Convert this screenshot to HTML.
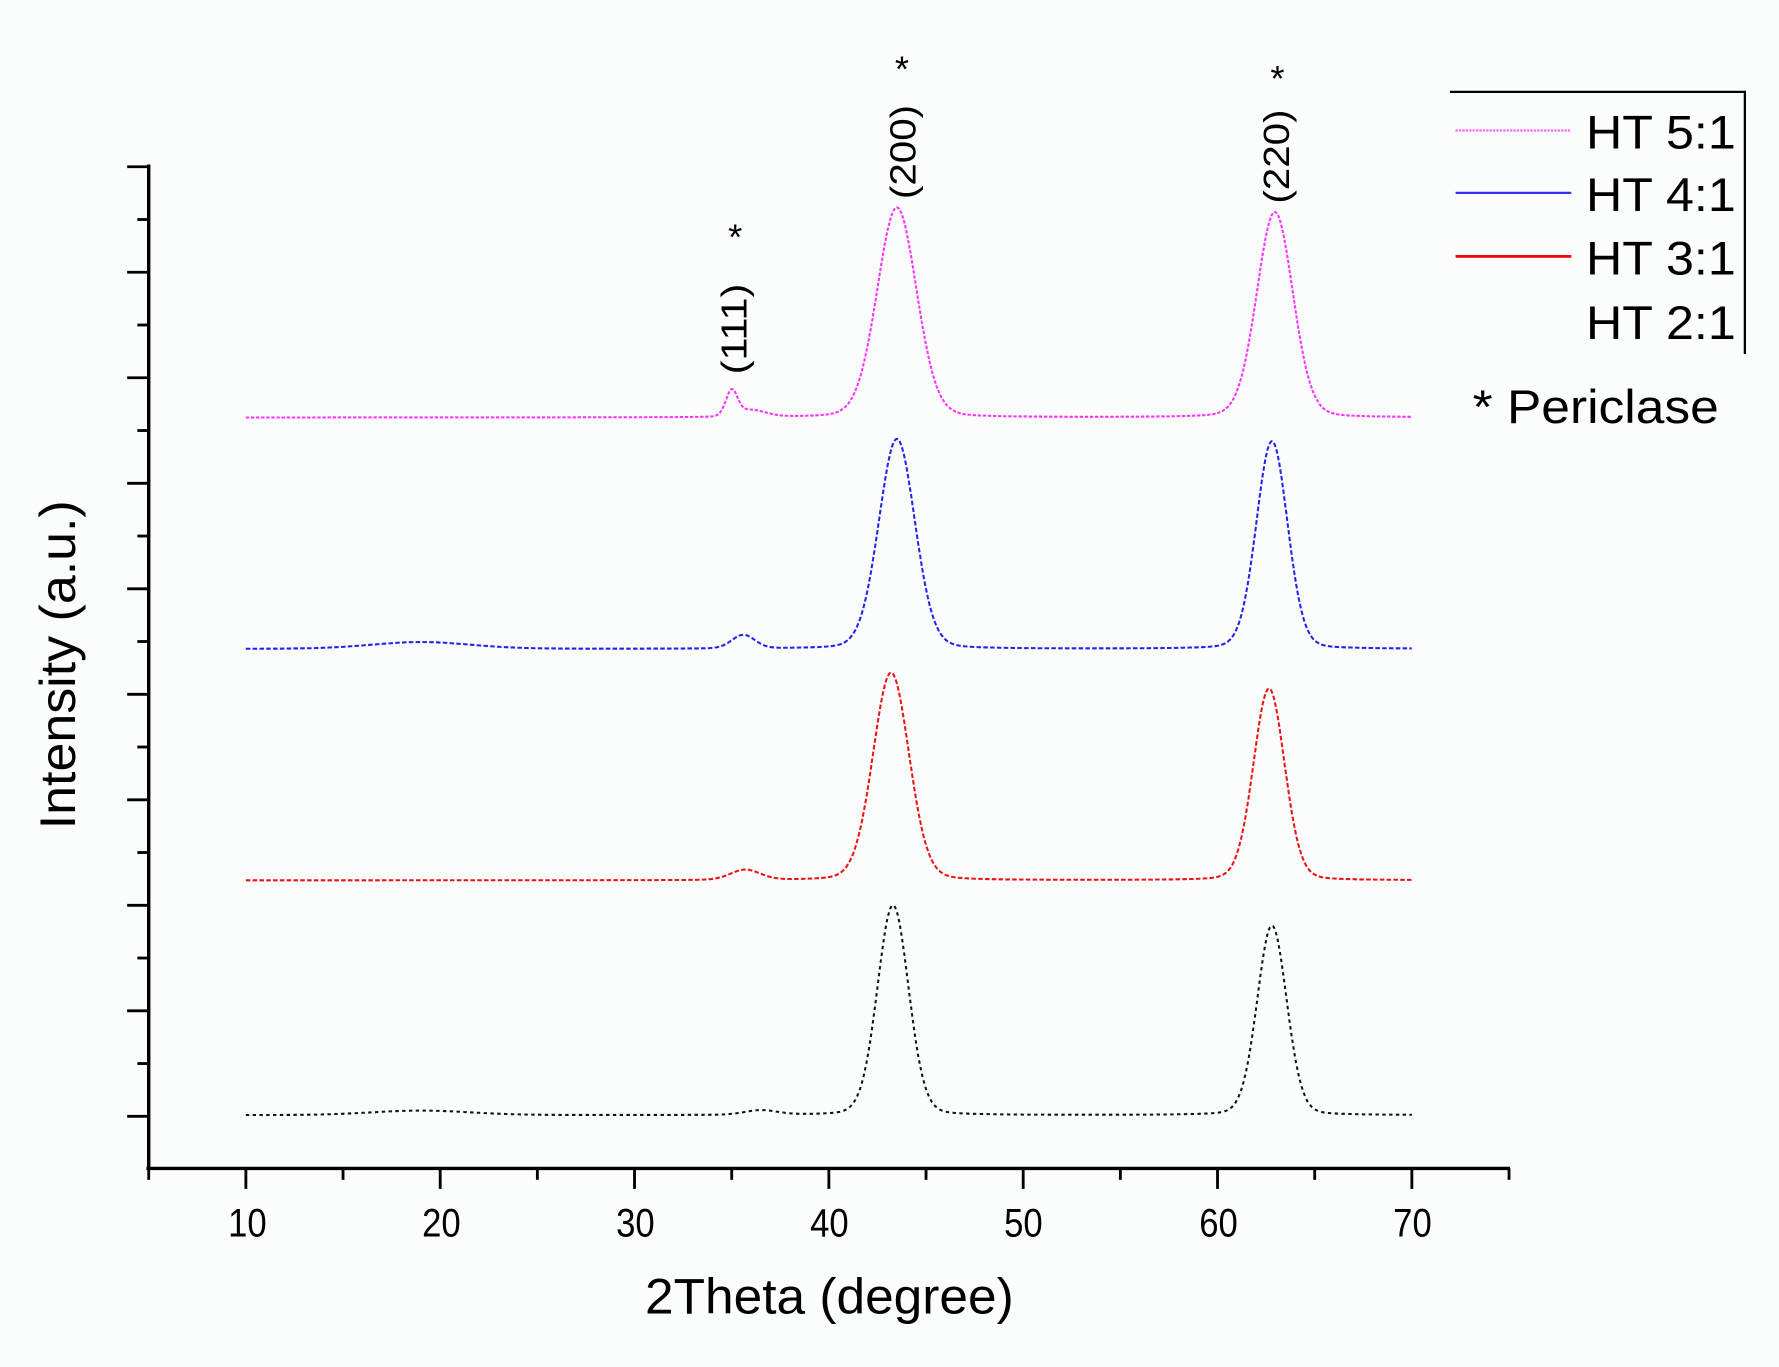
<!DOCTYPE html>
<html><head><meta charset="utf-8"><style>
html,body{margin:0;padding:0;background:#fbfcfc;}
svg{display:block;font-family:"Liberation Sans",Arial,sans-serif;}
</style></head><body>
<svg id="s" width="1779" height="1367" viewBox="0 0 1568 1205" xmlns="http://www.w3.org/2000/svg">
<rect width="1568" height="1205" fill="#fbfcfc"/>
<g id="ax" stroke="#000" stroke-width="3" fill="none">
<line x1="131" y1="145" x2="131" y2="1031"/>
<line x1="129" y1="1030" x2="1331" y2="1030"/>
</g>
<g id="ticks" stroke="#000" stroke-width="2.5"></g>
<g id="curves" fill="none"></g>
<g font-size="35" text-anchor="middle" fill="#000" lengthAdjust="spacingAndGlyphs">
<text x="218" y="1090" textLength="34" lengthAdjust="spacingAndGlyphs">10</text><text x="389" y="1090" textLength="34" lengthAdjust="spacingAndGlyphs">20</text><text x="560" y="1090" textLength="34" lengthAdjust="spacingAndGlyphs">30</text>
<text x="731" y="1090" textLength="34" lengthAdjust="spacingAndGlyphs">40</text><text x="902" y="1090" textLength="34" lengthAdjust="spacingAndGlyphs">50</text><text x="1074" y="1090" textLength="34" lengthAdjust="spacingAndGlyphs">60</text><text x="1245" y="1090" textLength="34" lengthAdjust="spacingAndGlyphs">70</text>
</g>
<text x="731" y="1158" font-size="44" text-anchor="middle" textLength="325" lengthAdjust="spacingAndGlyphs">2Theta (degree)</text>
<text transform="translate(66,586) rotate(-90)" font-size="44" text-anchor="middle" textLength="290" lengthAdjust="spacingAndGlyphs">Intensity (a.u.)</text>
<g font-size="32" fill="#000" text-anchor="middle">
<text x="795" y="72">*</text>
<text transform="translate(807,134) rotate(-90)" textLength="83" lengthAdjust="spacingAndGlyphs">(200)</text>
<text x="1126" y="80">*</text>
<text transform="translate(1136,138) rotate(-90)" textLength="83" lengthAdjust="spacingAndGlyphs">(220)</text>
<text x="648" y="220">*</text>
<text transform="translate(658,290) rotate(-90)" textLength="80" lengthAdjust="spacingAndGlyphs">(111)</text>
</g>
<g stroke="#000" stroke-width="2" fill="none">
<polyline points="1278,81 1538,81 1538,312"/>
</g>
<line x1="1283" y1="115" x2="1385" y2="115" stroke="#ff66ff" stroke-width="2" stroke-dasharray="2 1"/>
<line x1="1283" y1="170" x2="1385" y2="170" stroke="#3333ee" stroke-width="2"/>
<line x1="1283" y1="226" x2="1385" y2="226" stroke="#ff0000" stroke-width="2.5"/>
<g font-size="42" fill="#000">
<text x="1398" y="131" textLength="132" lengthAdjust="spacingAndGlyphs">HT 5:1</text>
<text x="1398" y="186" textLength="132" lengthAdjust="spacingAndGlyphs">HT 4:1</text>
<text x="1398" y="242" textLength="132" lengthAdjust="spacingAndGlyphs">HT 3:1</text>
<text x="1398" y="299" textLength="132" lengthAdjust="spacingAndGlyphs">HT 2:1</text>
<text x="1298" y="373" textLength="217" lengthAdjust="spacingAndGlyphs">* Periclase</text>
</g>
</svg>
<script>
var NS="http://www.w3.org/2000/svg";
function X(d){return 131+(d-5)*17.13;}
var tk=document.getElementById("ticks");
function ln(x1,y1,x2,y2){var l=document.createElementNS(NS,"line");l.setAttribute("x1",x1);l.setAttribute("y1",y1);l.setAttribute("x2",x2);l.setAttribute("y2",y2);tk.appendChild(l);}
for(var d=5;d<=75;d+=5){var x=X(d);ln(x,1030,x,(d%10==0)?1048:1040);}
for(var k=0;k<=18;k++){var y=147+k*46.5;if(y>1030)break;ln(k%2==0?112:121,y,131,y);}
function pv(x,c,w,h){var t=(x-c)/w;return h*(0.12/(1+t*t)+0.88*Math.exp(-0.693*t*t));}
var S=[
 {col:"#ff33ff",b:368,dash:"3 1.5",p:[[43.5,1.2,185],[62.95,1.1,181],[35.0,0.35,22],[36,0.9,6]]},
 {col:"#2222ee",b:572,dash:"4 2",p:[[43.5,1.1,185],[62.8,0.95,183],[35.6,0.7,12],[19,3,6]]},
 {col:"#ee1111",b:776,dash:"4 2",p:[[43.2,1.1,183],[62.65,0.95,169],[35.7,0.9,9]]},
 {col:"#111111",b:983,dash:"3 3",p:[[43.3,0.95,185],[62.8,0.9,167],[19,3,4],[36.5,1,4]]}
];
var g=document.getElementById("curves");
S.forEach(function(s){var pts=[];for(var d=10;d<=70.001;d+=0.05){var v=0;s.p.forEach(function(p){v+=pv(d,p[0],p[1],p[2]);});
 pts.push(X(d).toFixed(1)+","+(s.b-v).toFixed(1));}
 var pl=document.createElementNS(NS,"polyline");pl.setAttribute("points",pts.join(" "));pl.setAttribute("stroke",s.col);pl.setAttribute("stroke-width","1.8");pl.setAttribute("stroke-dasharray",s.dash);g.appendChild(pl);});
</script>
</body></html>
